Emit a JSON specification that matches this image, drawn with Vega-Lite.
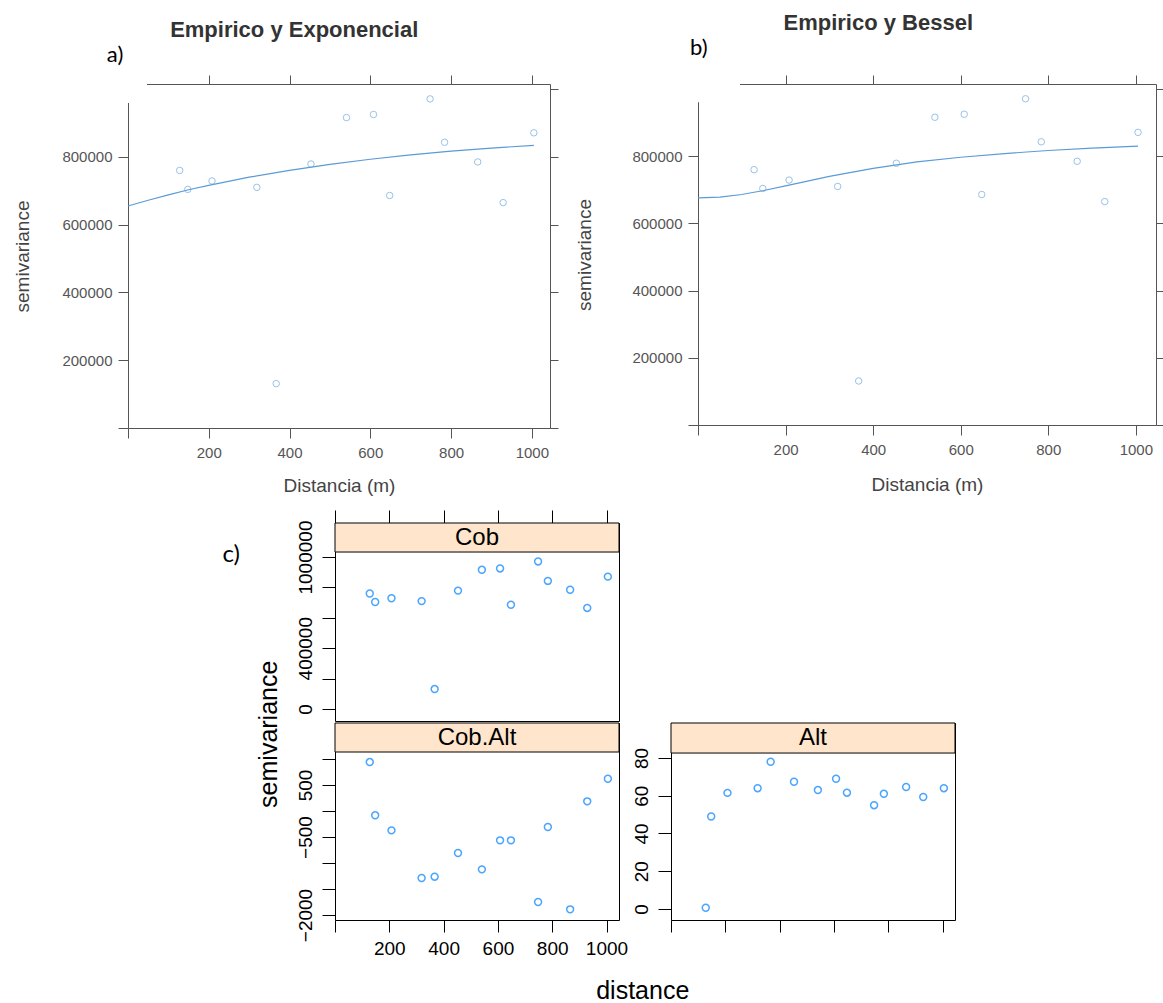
{
  "$schema": "https://vega.github.io/schema/vega-lite/v6.json",
  "background": "white",
  "padding": {"left": 13, "top": 12, "right": 2, "bottom": 0},
  "config": {
    "font": "Liberation Sans",
    "view": {"stroke": null},
    "axis": {"grid": false, "labelFont": "Liberation Sans", "titleFont": "Liberation Sans", "labelOverlap": false, "labelFlush": false, "titleFontWeight": "normal"},
    "title": {"font": "Liberation Sans"}
  },
  "datasets": {
    "emp": [
      {"dist": 128, "Cob": 760000, "CobAlt": 942, "Alt": 0.7},
      {"dist": 148, "Cob": 704000, "CobAlt": -83, "Alt": 49},
      {"dist": 208, "Cob": 729000, "CobAlt": -372, "Alt": 61.5},
      {"dist": 319, "Cob": 710000, "CobAlt": -1288, "Alt": 64},
      {"dist": 367, "Cob": 131000, "CobAlt": -1263, "Alt": 78},
      {"dist": 453, "Cob": 779000, "CobAlt": -808, "Alt": 67.4},
      {"dist": 541, "Cob": 916000, "CobAlt": -1122, "Alt": 63},
      {"dist": 608, "Cob": 925000, "CobAlt": -564, "Alt": 69},
      {"dist": 648, "Cob": 686000, "CobAlt": -564, "Alt": 61.6},
      {"dist": 748, "Cob": 971000, "CobAlt": -1750, "Alt": 55},
      {"dist": 784, "Cob": 843000, "CobAlt": -308, "Alt": 61},
      {"dist": 866, "Cob": 785000, "CobAlt": -1891, "Alt": 64.6},
      {"dist": 929, "Cob": 665000, "CobAlt": 186, "Alt": 59.3},
      {"dist": 1005, "Cob": 871000, "CobAlt": 621, "Alt": 64}
    ],
    "fit": [
      {"model": "Exponencial", "dist": 0, "gamma": 655000},
      {"model": "Exponencial", "dist": 50, "gamma": 672000},
      {"model": "Exponencial", "dist": 100, "gamma": 688000},
      {"model": "Exponencial", "dist": 150, "gamma": 703000},
      {"model": "Exponencial", "dist": 200, "gamma": 716000},
      {"model": "Exponencial", "dist": 300, "gamma": 740000},
      {"model": "Exponencial", "dist": 400, "gamma": 760000},
      {"model": "Exponencial", "dist": 500, "gamma": 778000},
      {"model": "Exponencial", "dist": 600, "gamma": 793000},
      {"model": "Exponencial", "dist": 700, "gamma": 806000},
      {"model": "Exponencial", "dist": 800, "gamma": 817000},
      {"model": "Exponencial", "dist": 900, "gamma": 826000},
      {"model": "Exponencial", "dist": 1005, "gamma": 834000},
      {"model": "Bessel", "dist": 0, "gamma": 676000},
      {"model": "Bessel", "dist": 50, "gamma": 678000},
      {"model": "Bessel", "dist": 100, "gamma": 686000},
      {"model": "Bessel", "dist": 150, "gamma": 698000},
      {"model": "Bessel", "dist": 200, "gamma": 712000},
      {"model": "Bessel", "dist": 300, "gamma": 740000},
      {"model": "Bessel", "dist": 400, "gamma": 764000},
      {"model": "Bessel", "dist": 500, "gamma": 783000},
      {"model": "Bessel", "dist": 600, "gamma": 797000},
      {"model": "Bessel", "dist": 700, "gamma": 808000},
      {"model": "Bessel", "dist": 800, "gamma": 817000},
      {"model": "Bessel", "dist": 900, "gamma": 824000},
      {"model": "Bessel", "dist": 1005, "gamma": 830000}
    ]
  },
  "spacing": 14,
  "vconcat": [
    {
      "spacing": 16,
      "hconcat": [
        {
          "width": 422,
          "height": 344,
          "title": {"text": "Empirico y Exponencial", "fontSize": 22, "fontWeight": "bold", "color": "#333333", "anchor": "middle", "frame": "bounds", "offset": 2, "dx": 8},
          "resolve": {"axis": {"x": "independent", "y": "independent"}},
          "layer": [
            {
              "data": {"name": "fit"},
              "transform": [{"filter": "datum.model == 'Exponencial'"}],
              "mark": {"type": "line", "color": "#5b9bd5", "strokeWidth": 1.2},
              "encoding": {
                "x": {"field": "dist", "type": "quantitative", "scale": {"domain": [0, 1045], "nice": false, "zero": false},
                      "axis": {"orient": "top", "values": [200, 400, 600, 800, 1000], "labels": false, "title": null, "tickSize": 9, "domainColor": "#555555", "tickColor": "#555555"}},
                "y": {"field": "gamma", "type": "quantitative", "scale": {"domain": [0, 1015000], "nice": false, "zero": false},
                      "axis": {"orient": "right", "values": [0, 200000, 400000, 600000, 800000, 1000000], "labels": false, "title": null, "tickSize": 8, "domainColor": "#555555", "tickColor": "#555555"}}
              }
            },
            {
              "data": {"name": "emp"},
              "mark": {"type": "point", "shape": "circle", "filled": false, "color": "#6fa8dc", "size": 42, "strokeWidth": 1},
              "encoding": {
                "x": {"field": "dist", "type": "quantitative", "scale": {"domain": [0, 1045], "nice": false, "zero": false},
                      "axis": {"orient": "bottom", "values": [0, 200, 400, 600, 800, 1000], "format": "d", "labelExpr": "datum.value == 0 ? '' : datum.label", "title": "Distancia (m)", "tickSize": 10, "labelPadding": 7, "labelFontSize": 15, "titleFontSize": 19, "titlePadding": 16, "domainColor": "#555555", "tickColor": "#555555", "labelColor": "#555555", "titleColor": "#444444"}},
                "y": {"field": "Cob", "type": "quantitative", "scale": {"domain": [0, 1015000], "nice": false, "zero": false},
                      "axis": {"orient": "left", "values": [0, 200000, 400000, 600000, 800000], "format": "d", "labelExpr": "datum.value == 0 ? '' : datum.label", "title": "semivariance", "tickSize": 10, "labelPadding": 6, "labelFontSize": 15, "titleFontSize": 19, "titlePadding": 29, "domainColor": "#555555", "tickColor": "#555555", "labelColor": "#555555", "titleColor": "#444444"}}
              }
            },
            {
              "data": {"values": [{"label": "a)"}]},
              "mark": {"type": "text", "font": "Lato", "fontSize": 22, "color": "black", "clip": false, "align": "center", "baseline": "middle"},
              "encoding": {
                "x": {"datum": -32, "type": "quantitative", "axis": null},
                "y": {"datum": 1100600, "type": "quantitative", "axis": null},
                "text": {"field": "label"}
              }
            },
            {
              "data": {"values": [{"label": "corner"}]},
              "mark": {"type": "rect", "color": "white", "clip": false},
              "encoding": {
                "x": {"datum": -14, "type": "quantitative", "axis": null},
                "x2": {"datum": 47},
                "y": {"datum": 959000, "type": "quantitative", "axis": null},
                "y2": {"datum": 1050000}
              }
            }
          ]
        },
        {
          "width": 458,
          "height": 341,
          "title": {"text": "Empirico y Bessel", "fontSize": 22, "fontWeight": "bold", "color": "#333333", "anchor": "middle", "frame": "bounds", "offset": 2, "dx": 8},
          "resolve": {"axis": {"x": "independent", "y": "independent"}},
          "layer": [
            {
              "data": {"name": "fit"},
              "transform": [{"filter": "datum.model == 'Bessel'"}],
              "mark": {"type": "line", "color": "#5b9bd5", "strokeWidth": 1.2},
              "encoding": {
                "x": {"field": "dist", "type": "quantitative", "scale": {"domain": [0, 1046], "nice": false, "zero": false},
                      "axis": {"orient": "top", "values": [200, 400, 600, 800, 1000], "labels": false, "title": null, "tickSize": 9, "domainColor": "#555555", "tickColor": "#555555"}},
                "y": {"field": "gamma", "type": "quantitative", "scale": {"domain": [0, 1015000], "nice": false, "zero": false},
                      "axis": {"orient": "right", "values": [0, 200000, 400000, 600000, 800000, 1000000], "labels": false, "title": null, "tickSize": 8, "domainColor": "#555555", "tickColor": "#555555"}}
              }
            },
            {
              "data": {"name": "emp"},
              "mark": {"type": "point", "shape": "circle", "filled": false, "color": "#6fa8dc", "size": 42, "strokeWidth": 1},
              "encoding": {
                "x": {"field": "dist", "type": "quantitative", "scale": {"domain": [0, 1046], "nice": false, "zero": false},
                      "axis": {"orient": "bottom", "values": [0, 200, 400, 600, 800, 1000], "format": "d", "labelExpr": "datum.value == 0 ? '' : datum.label", "title": "Distancia (m)", "tickSize": 10, "labelPadding": 7, "labelFontSize": 15, "titleFontSize": 19, "titlePadding": 18, "domainColor": "#555555", "tickColor": "#555555", "labelColor": "#555555", "titleColor": "#444444"}},
                "y": {"field": "Cob", "type": "quantitative", "scale": {"domain": [0, 1015000], "nice": false, "zero": false},
                      "axis": {"orient": "left", "values": [0, 200000, 400000, 600000, 800000], "format": "d", "labelExpr": "datum.value == 0 ? '' : datum.label", "title": "semivariance", "tickSize": 10, "labelPadding": 6, "labelFontSize": 15, "titleFontSize": 19, "titlePadding": 37, "domainColor": "#555555", "tickColor": "#555555", "labelColor": "#555555", "titleColor": "#444444"}}
              }
            },
            {
              "data": {"values": [{"label": "b)"}]},
              "mark": {"type": "text", "font": "Lato", "fontSize": 22, "color": "black", "clip": false, "align": "center", "baseline": "middle"},
              "encoding": {
                "x": {"datum": 2, "type": "quantitative", "axis": null},
                "y": {"datum": 1122000, "type": "quantitative", "axis": null},
                "text": {"field": "label"}
              }
            },
            {
              "data": {"values": [{"label": "corner"}]},
              "mark": {"type": "rect", "color": "white", "clip": false},
              "encoding": {
                "x": {"datum": -14, "type": "quantitative", "axis": null},
                "x2": {"datum": 96},
                "y": {"datum": 961000, "type": "quantitative", "axis": null},
                "y2": {"datum": 1050000}
              }
            }
          ]
        }
      ]
    },
    {
      "spacing": 16,
      "hconcat": [
        {
          "width": 112,
          "height": 100,
          "data": {"values": [{"label": "c)"}]},
          "mark": {"type": "text", "font": "Lato", "fontSize": 24, "color": "black", "align": "right", "baseline": "middle", "clip": false},
          "encoding": {
            "x": {"datum": 1, "type": "quantitative", "scale": {"domain": [0, 1]}, "axis": null},
            "y": {"datum": 0.68, "type": "quantitative", "scale": {"domain": [0, 1]}, "axis": null},
            "text": {"field": "label"}
          }
        },
        {
          "title": {"text": "semivariance", "orient": "left", "fontSize": 25, "fontWeight": "normal", "color": "black", "anchor": "middle", "offset": 14, "dx": 22},
          "vconcat": [
            {
              "title": {"text": "distance", "orient": "bottom", "fontSize": 25, "fontWeight": "normal", "color": "black", "anchor": "middle", "frame": "bounds", "offset": 20, "dx": 17},
              "spacing": 0,
              "vconcat": [
                {
                  "width": 284,
                  "height": 198,
                  "view": {"stroke": "black", "strokeWidth": 1},
                  "resolve": {"axis": {"x": "independent", "y": "independent"}},
                  "layer": [
                    {
                      "data": {"name": "emp"},
                      "mark": {"type": "point", "shape": "circle", "filled": false, "color": "#0080ff", "size": 48, "strokeWidth": 1.5},
                      "encoding": {
                        "x": {"field": "dist", "type": "quantitative", "scale": {"domain": [0, 1046], "nice": false, "zero": false},
                              "axis": {"orient": "top", "values": [0, 200, 400, 600, 800, 1000], "labels": false, "title": null, "domain": false, "tickSize": 13, "tickColor": "black"}},
                        "y": {"field": "Cob", "type": "quantitative", "scale": {"domain": [-79000, 1224000], "nice": false, "zero": false},
                              "axis": {"orient": "left", "values": [0, 200000, 400000, 600000, 800000, 1000000], "labelExpr": "(datum.value == 0 || datum.value == 400000 || datum.value == 1000000) ? format(datum.value, 'd') : ''", "labelAngle": -90, "labelAlign": "center", "labelBaseline": "bottom", "labelFontSize": 19, "labelColor": "black", "labelPadding": 7, "tickSize": 13, "tickColor": "black", "domain": false, "title": null}}
                      }
                    },
                    {
                      "data": {"values": [{"panel": "Cob"}]},
                      "mark": {"type": "rect", "fill": "#ffe5cc", "stroke": "black", "strokeWidth": 1},
                      "encoding": {
                        "x": {"datum": 0, "type": "quantitative", "axis": null},
                        "x2": {"datum": 1046},
                        "y": {"datum": 1033000, "type": "quantitative", "axis": null},
                        "y2": {"datum": 1224000}
                      }
                    },
                    {
                      "data": {"values": [{"panel": "Cob"}]},
                      "mark": {"type": "text", "fontSize": 24, "color": "black", "align": "center", "baseline": "middle"},
                      "encoding": {
                        "x": {"datum": 523, "type": "quantitative", "axis": null},
                        "y": {"datum": 1128500, "type": "quantitative", "axis": null},
                        "text": {"field": "panel"}
                      }
                    }
                  ]
                },
                {
                  "spacing": 2,
                  "hconcat": [
                    {
                      "width": 284,
                      "height": 197,
                      "view": {"stroke": "black", "strokeWidth": 1},
                      "resolve": {"axis": {"x": "independent", "y": "independent"}},
                      "layer": [
                        {
                          "data": {"name": "emp"},
                          "mark": {"type": "point", "shape": "circle", "filled": false, "color": "#0080ff", "size": 48, "strokeWidth": 1.5},
                          "encoding": {
                            "x": {"field": "dist", "type": "quantitative", "scale": {"domain": [0, 1046], "nice": false, "zero": false},
                                  "axis": {"orient": "bottom", "values": [0, 200, 400, 600, 800, 1000], "format": "d", "labelExpr": "datum.value == 0 ? '' : datum.label", "labelFontSize": 19, "labelColor": "black", "labelPadding": 7, "tickSize": 12, "tickColor": "black", "domain": false, "title": null}},
                            "y": {"field": "CobAlt", "type": "quantitative", "scale": {"domain": [-2096, 1693], "nice": false, "zero": false},
                                  "axis": {"orient": "left", "values": [-2000, -1500, -1000, -500, 0, 500, 1000], "labelExpr": "(datum.value == -2000 || datum.value == -500 || datum.value == 500) ? format(datum.value, 'd') : ''", "labelAngle": -90, "labelAlign": "center", "labelBaseline": "bottom", "labelFontSize": 19, "labelColor": "black", "labelPadding": 7, "tickSize": 13, "tickColor": "black", "domain": false, "title": null}}
                          }
                        },
                        {
                          "data": {"values": [{"panel": "Cob.Alt"}]},
                          "mark": {"type": "rect", "fill": "#ffe5cc", "stroke": "black", "strokeWidth": 1},
                          "encoding": {
                            "x": {"datum": 0, "type": "quantitative", "axis": null},
                            "x2": {"datum": 1046},
                            "y": {"datum": 1135, "type": "quantitative", "axis": null},
                            "y2": {"datum": 1693}
                          }
                        },
                        {
                          "data": {"values": [{"panel": "Cob.Alt"}]},
                          "mark": {"type": "text", "fontSize": 24, "color": "black", "align": "center", "baseline": "middle"},
                          "encoding": {
                            "x": {"datum": 523, "type": "quantitative", "axis": null},
                            "y": {"datum": 1414, "type": "quantitative", "axis": null},
                            "text": {"field": "panel"}
                          }
                        }
                      ]
                    },
                    {
                      "width": 284,
                      "height": 197,
                      "view": {"stroke": "black", "strokeWidth": 1},
                      "resolve": {"axis": {"x": "independent", "y": "independent"}},
                      "layer": [
                        {
                          "data": {"name": "emp"},
                          "mark": {"type": "point", "shape": "circle", "filled": false, "color": "#0080ff", "size": 48, "strokeWidth": 1.5},
                          "encoding": {
                            "x": {"field": "dist", "type": "quantitative", "scale": {"domain": [0, 1046], "nice": false, "zero": false},
                                  "axis": {"orient": "bottom", "values": [0, 200, 400, 600, 800, 1000], "labels": false, "tickSize": 12, "tickColor": "black", "domain": false, "title": null}},
                            "y": {"field": "Alt", "type": "quantitative", "scale": {"domain": [-5.8, 98.5], "nice": false, "zero": false},
                                  "axis": {"orient": "left", "values": [0, 20, 40, 60, 80], "format": "d", "labelAngle": -90, "labelAlign": "center", "labelBaseline": "bottom", "labelFontSize": 19, "labelColor": "black", "labelPadding": 7, "tickSize": 13, "tickColor": "black", "domain": false, "title": null}}
                          }
                        },
                        {
                          "data": {"values": [{"panel": "Alt"}]},
                          "mark": {"type": "rect", "fill": "#ffe5cc", "stroke": "black", "strokeWidth": 1},
                          "encoding": {
                            "x": {"datum": 0, "type": "quantitative", "axis": null},
                            "x2": {"datum": 1046},
                            "y": {"datum": 82.6, "type": "quantitative", "axis": null},
                            "y2": {"datum": 98.5}
                          }
                        },
                        {
                          "data": {"values": [{"panel": "Alt"}]},
                          "mark": {"type": "text", "fontSize": 24, "color": "black", "align": "center", "baseline": "middle"},
                          "encoding": {
                            "x": {"datum": 523, "type": "quantitative", "axis": null},
                            "y": {"datum": 90.55, "type": "quantitative", "axis": null},
                            "text": {"field": "panel"}
                          }
                        }
                      ]
                    }
                  ]
                }
              ]
            }
          ]
        }
      ]
    }
  ]
}
